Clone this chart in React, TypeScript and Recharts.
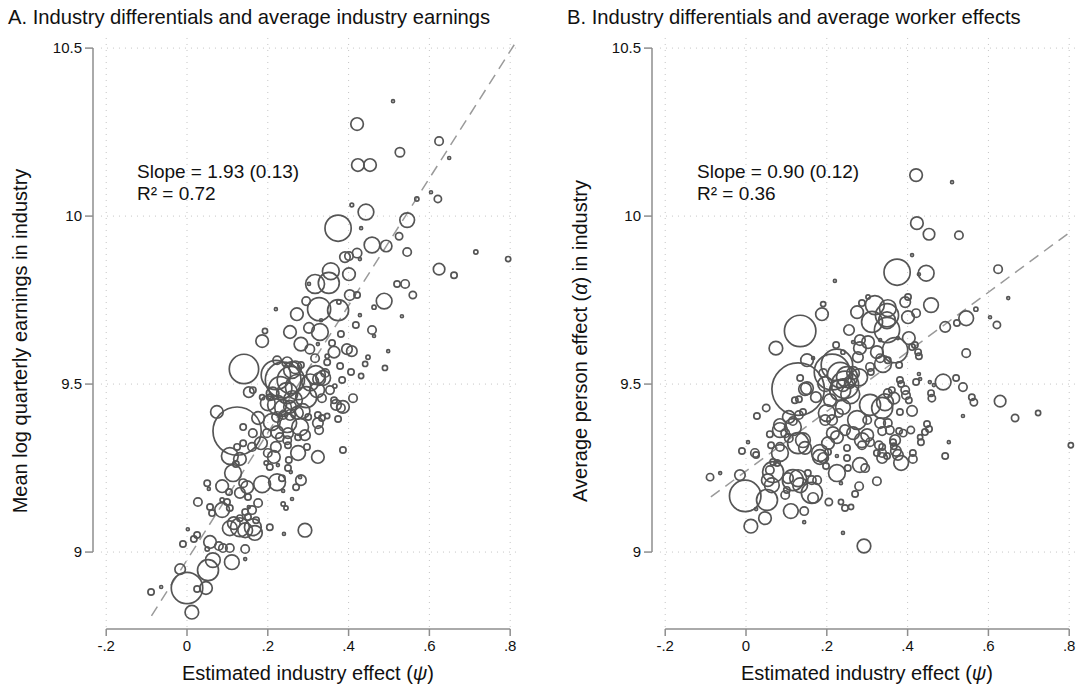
import React from "react";
import { ScatterChart, Scatter, XAxis, YAxis, ZAxis, ReferenceLine } from "recharts";

const FONT = '"Liberation Sans", Arial, Helvetica, sans-serif';
const AXIS = "#8e8e8e";
const GRID = "#c4c4c4";
const MARK = "#555555";

const xTicks = [-0.2, 0, 0.2, 0.4, 0.6, 0.8];
const yTicks = [9, 9.5, 10, 10.5];

// [industry effect psi, mean log quarterly earnings, employment weight]
const industriesA: number[][] = [
  [0.51, 10.342, 2], [0.421, 10.274, 36], [0.624, 10.223, 16], [0.527, 10.19, 20], [0.649, 10.173, 2],
  [0.423, 10.152, 36], [0.453, 10.152, 36], [0.408, 10.033, 3], [0.443, 10.012, 56], [0.569, 10.051, 4],
  [0.604, 10.071, 2], [0.621, 10.051, 12], [0.374, 9.964, 156], [0.431, 9.964, 2], [0.545, 9.988, 49],
  [0.525, 9.94, 12], [0.458, 9.914, 56], [0.493, 9.911, 30], [0.545, 9.893, 16], [0.715, 9.893, 4],
  [0.795, 9.872, 6], [0.421, 9.89, 20], [0.401, 9.881, 16], [0.391, 9.878, 25], [0.428, 9.872, 2],
  [0.624, 9.842, 30], [0.661, 9.824, 9], [0.356, 9.836, 64], [0.401, 9.827, 36], [0.351, 9.801, 100],
  [0.317, 9.798, 81], [0.302, 9.798, 2], [0.52, 9.798, 9], [0.54, 9.798, 16], [0.559, 9.765, 12],
  [0.488, 9.747, 56], [0.403, 9.765, 25], [0.421, 9.765, 9], [0.374, 9.72, 100], [0.327, 9.723, 121],
  [0.295, 9.747, 16], [0.272, 9.708, 36], [0.22, 9.723, 2], [0.376, 9.744, 4], [0.463, 9.729, 4],
  [0.532, 9.702, 2], [0.428, 9.705, 2], [0.418, 9.676, 9], [0.458, 9.661, 16], [0.381, 9.649, 9],
  [0.302, 9.667, 25], [0.332, 9.69, 2], [0.329, 9.655, 64], [0.255, 9.655, 36], [0.193, 9.658, 6],
  [0.186, 9.628, 36], [0.282, 9.619, 42], [0.304, 9.604, 20], [0.359, 9.622, 9], [0.396, 9.604, 25],
  [0.408, 9.598, 25], [0.364, 9.595, 30], [0.498, 9.598, 2], [0.448, 9.58, 4], [0.317, 9.577, 16],
  [0.347, 9.583, 4], [0.441, 9.56, 6], [0.379, 9.554, 9], [0.49, 9.548, 6], [0.406, 9.536, 9],
  [0.431, 9.524, 6], [0.384, 9.512, 9], [0.366, 9.494, 4], [0.141, 9.545, 196], [0.342, 9.533, 16],
  [0.327, 9.515, 36], [0.282, 9.557, 9], [0.257, 9.512, 169], [0.324, 9.619, 2], [0.347, 9.565, 9],
  [0.337, 9.518, 49], [0.319, 9.527, 81], [0.223, 9.571, 16], [0.248, 9.565, 25], [0.26, 9.542, 64],
  [0.22, 9.527, 196], [0.238, 9.512, 289], [0.248, 9.473, 100], [0.275, 9.491, 144], [0.295, 9.461, 100],
  [0.322, 9.482, 49], [0.334, 9.458, 16], [0.354, 9.482, 16], [0.364, 9.452, 9], [0.369, 9.438, 25],
  [0.386, 9.432, 36], [0.381, 9.429, 16], [0.411, 9.458, 16], [0.153, 9.476, 25], [0.163, 9.482, 9],
  [0.186, 9.461, 6], [0.205, 9.461, 9], [0.2, 9.443, 49], [0.223, 9.438, 81], [0.238, 9.429, 64],
  [0.255, 9.432, 36], [0.223, 9.402, 25], [0.238, 9.408, 16], [0.255, 9.408, 25], [0.272, 9.414, 36],
  [0.3, 9.402, 9], [0.324, 9.408, 9], [0.334, 9.399, 9], [0.347, 9.405, 6], [0.324, 9.384, 25],
  [0.327, 9.363, 16], [0.074, 9.417, 36], [0.124, 9.36, 529], [0.163, 9.354, 16], [0.139, 9.372, 9],
  [0.176, 9.399, 36], [0.21, 9.387, 64], [0.223, 9.357, 36], [0.198, 9.354, 16], [0.248, 9.384, 81],
  [0.25, 9.354, 25], [0.28, 9.372, 64], [0.292, 9.348, 25], [0.275, 9.342, 9], [0.23, 9.342, 16],
  [0.183, 9.324, 36], [0.139, 9.324, 9], [0.161, 9.313, 16], [0.22, 9.313, 25], [0.25, 9.318, 9],
  [0.297, 9.313, 9], [0.275, 9.295, 49], [0.106, 9.286, 64], [0.2, 9.295, 16], [0.324, 9.283, 36],
  [0.386, 9.304, 9], [0.124, 9.313, 9], [0.248, 9.333, 16], [0.215, 9.283, 36], [0.252, 9.274, 9],
  [0.131, 9.277, 36], [0.121, 9.262, 9], [0.196, 9.265, 4], [0.205, 9.253, 9], [0.225, 9.259, 2],
  [0.25, 9.25, 9], [0.257, 9.238, 2], [0.114, 9.235, 64], [0.05, 9.205, 9], [0.054, 9.188, 2],
  [0.087, 9.196, 36], [0.104, 9.179, 9], [0.139, 9.205, 16], [0.149, 9.193, 36], [0.131, 9.176, 25],
  [0.186, 9.202, 64], [0.223, 9.208, 64], [0.235, 9.22, 9], [0.282, 9.214, 25], [0.28, 9.223, 2],
  [0.27, 9.193, 9], [0.238, 9.182, 2], [0.151, 9.164, 9], [0.099, 9.149, 9], [0.087, 9.155, 4],
  [0.027, 9.149, 16], [0.057, 9.134, 9], [0.062, 9.116, 9], [0.087, 9.125, 49], [0.106, 9.131, 9],
  [0.153, 9.134, 2], [0.161, 9.125, 16], [0.176, 9.146, 16], [0.26, 9.158, 2], [0.238, 9.143, 4],
  [0.245, 9.131, 4], [0.144, 9.119, 9], [0.151, 9.104, 9], [0.131, 9.101, 9], [0.171, 9.095, 9],
  [0.116, 9.086, 36], [0.106, 9.071, 49], [0.131, 9.074, 81], [0.144, 9.065, 49], [0.163, 9.074, 64],
  [0.168, 9.057, 49], [0.205, 9.074, 9], [0.24, 9.054, 2], [0.292, 9.065, 42], [0.002, 9.068, 2],
  [0.025, 9.051, 9], [0.017, 9.039, 9], [-0.01, 9.024, 9], [0.057, 9.03, 36], [0.05, 9.009, 4],
  [0.079, 9.018, 16], [0.089, 9.012, 16], [0.106, 9.012, 16], [0.144, 9.009, 16], [0.144, 8.979, 2],
  [0.111, 8.97, 49], [0.064, 8.976, 49], [0.052, 8.946, 100], [-0.017, 8.949, 25], [0.0, 8.893, 225],
  [0.047, 8.893, 36], [0.025, 8.89, 9], [-0.064, 8.896, 2], [-0.089, 8.881, 9], [0.012, 8.821, 42],
  [0.374, 9.396, 9], [0.463, 9.643, 2], [0.231, 9.488, 121], [0.262, 9.452, 81], [0.286, 9.42, 49],
  [0.212, 9.472, 36], [0.305, 9.505, 64], [0.268, 9.55, 36],
];

// [industry effect psi, average person effect alpha, employment weight]
const industriesB: number[][] = [
  [0.421, 10.122, 36], [0.51, 10.101, 2], [0.423, 9.979, 36], [0.453, 9.946, 30], [0.527, 9.943, 16],
  [0.411, 9.884, 2], [0.374, 9.833, 156], [0.446, 9.83, 56], [0.428, 9.827, 2], [0.624, 9.842, 16],
  [0.22, 9.807, 2], [0.649, 9.756, 2], [0.458, 9.735, 49], [0.401, 9.759, 9], [0.394, 9.744, 25],
  [0.421, 9.711, 16], [0.401, 9.699, 36], [0.319, 9.735, 81], [0.351, 9.726, 64], [0.349, 9.705, 121],
  [0.275, 9.714, 36], [0.302, 9.759, 4], [0.191, 9.738, 6], [0.188, 9.708, 36], [0.134, 9.658, 225],
  [0.074, 9.607, 42], [0.255, 9.661, 25], [0.312, 9.685, 100], [0.349, 9.661, 144], [0.282, 9.631, 25],
  [0.265, 9.625, 2], [0.302, 9.625, 36], [0.332, 9.631, 2], [0.376, 9.637, 2], [0.403, 9.637, 36],
  [0.418, 9.616, 9], [0.426, 9.595, 9], [0.369, 9.601, 144], [0.332, 9.577, 16], [0.351, 9.571, 9],
  [0.282, 9.607, 36], [0.277, 9.58, 25], [0.307, 9.551, 16], [0.151, 9.571, 36], [0.166, 9.577, 2],
  [0.191, 9.533, 16], [0.223, 9.616, 9], [0.24, 9.595, 4], [0.225, 9.557, 225], [0.233, 9.527, 144],
  [0.25, 9.521, 100], [0.265, 9.533, 36], [0.257, 9.503, 25], [0.24, 9.497, 36], [0.134, 9.518, 9],
  [0.151, 9.488, 36], [0.493, 9.67, 25], [0.522, 9.682, 9], [0.545, 9.696, 49], [0.569, 9.723, 4],
  [0.604, 9.699, 2], [0.621, 9.676, 12], [0.545, 9.592, 16], [0.488, 9.506, 56], [0.52, 9.518, 9],
  [0.537, 9.491, 16], [0.455, 9.506, 2], [0.428, 9.53, 2], [0.421, 9.506, 9], [0.381, 9.512, 9],
  [0.394, 9.482, 16], [0.458, 9.473, 9], [0.559, 9.461, 9], [0.629, 9.449, 30], [0.351, 9.473, 16],
  [0.129, 9.485, 625], [0.349, 9.69, 64], [0.411, 9.61, 9], [0.428, 9.583, 9], [0.339, 9.56, 64],
  [0.465, 9.497, 2], [0.564, 9.446, 12], [0.666, 9.399, 12], [0.723, 9.414, 6], [0.804, 9.318, 6],
  [0.537, 9.405, 2], [0.431, 9.515, 2], [0.384, 9.5, 9], [0.46, 9.458, 12], [0.366, 9.458, 30],
  [0.396, 9.467, 16], [0.403, 9.452, 9], [0.411, 9.42, 25], [0.381, 9.417, 9], [0.344, 9.446, 64],
  [0.337, 9.429, 100], [0.361, 9.482, 9], [0.433, 9.327, 9], [0.502, 9.327, 2], [0.493, 9.286, 9],
  [0.453, 9.366, 9], [0.443, 9.357, 9], [0.408, 9.363, 12], [0.389, 9.354, 12], [0.379, 9.36, 9],
  [0.356, 9.363, 16], [0.337, 9.36, 16], [0.366, 9.315, 9], [0.371, 9.301, 25], [0.384, 9.265, 49],
  [0.413, 9.277, 16], [0.349, 9.286, 9], [0.337, 9.28, 25], [0.146, 9.485, 36], [0.131, 9.455, 9],
  [0.121, 9.452, 9], [0.173, 9.461, 25], [0.05, 9.429, 12], [0.027, 9.405, 9], [0.084, 9.378, 36],
  [0.106, 9.402, 36], [0.116, 9.39, 16], [0.131, 9.408, 16], [0.141, 9.417, 9], [0.097, 9.354, 16],
  [0.059, 9.351, 9], [0.062, 9.318, 9], [0.084, 9.313, 16], [0.084, 9.295, 64], [0.129, 9.324, 100],
  [0.141, 9.333, 49], [-0.01, 9.301, 9], [0.022, 9.295, 16], [0.005, 9.327, 2], [0.106, 9.339, 16],
  [0.213, 9.536, 289], [0.233, 9.482, 100], [0.208, 9.452, 36], [0.2, 9.414, 64], [0.196, 9.393, 25],
  [0.213, 9.393, 25], [0.23, 9.414, 16], [0.24, 9.432, 49], [0.225, 9.342, 36], [0.245, 9.363, 25],
  [0.265, 9.354, 36], [0.275, 9.393, 81], [0.3, 9.393, 16], [0.307, 9.438, 100], [0.332, 9.384, 25],
  [0.351, 9.384, 16], [0.3, 9.348, 36], [0.307, 9.327, 16], [0.337, 9.313, 9], [0.287, 9.318, 16],
  [0.25, 9.31, 9], [0.369, 9.333, 25], [0.203, 9.324, 36], [0.183, 9.295, 64], [0.225, 9.286, 2],
  [0.324, 9.595, 36], [0.309, 9.536, 9], [0.287, 9.741, 9], [0.379, 9.557, 9], [-0.089, 9.223, 12],
  [-0.064, 9.235, 2], [-0.015, 9.229, 25], [-0.002, 9.167, 225], [0.052, 9.155, 100], [0.025, 9.128, 2],
  [0.012, 9.077, 42], [0.047, 9.101, 36], [0.111, 9.122, 49], [0.144, 9.122, 16], [0.144, 9.089, 2],
  [0.205, 9.149, 12], [0.235, 9.149, 6], [0.245, 9.131, 9], [0.26, 9.134, 6], [0.24, 9.057, 2],
  [0.292, 9.018, 42], [0.28, 9.196, 16], [0.27, 9.173, 9], [0.324, 9.211, 16], [0.025, 9.289, 9],
  [0.067, 9.268, 9], [0.077, 9.265, 9], [0.059, 9.244, 16], [0.067, 9.238, 100], [0.064, 9.199, 49],
  [0.104, 9.22, 25], [0.116, 9.214, 100], [0.129, 9.22, 64], [0.134, 9.199, 49], [0.153, 9.235, 9],
  [0.163, 9.214, 16], [0.176, 9.214, 16], [0.163, 9.176, 100], [0.166, 9.161, 25], [0.101, 9.185, 9],
  [0.097, 9.17, 16], [0.225, 9.235, 64], [0.191, 9.28, 25], [0.183, 9.283, 49], [0.198, 9.256, 9],
  [0.203, 9.298, 9], [0.25, 9.28, 9], [0.252, 9.25, 9], [0.235, 9.205, 2], [0.282, 9.259, 49],
  [0.295, 9.25, 16], [0.146, 9.31, 36], [0.084, 9.363, 49], [0.116, 9.372, 64], [0.215, 9.354, 36],
  [0.287, 9.333, 49], [0.329, 9.318, 16], [0.337, 9.295, 16], [0.364, 9.327, 9], [0.376, 9.289, 25],
  [0.324, 9.295, 9], [0.413, 9.295, 9], [0.431, 9.342, 6], [0.448, 9.381, 9], [0.054, 9.214, 36],
  [0.245, 9.498, 169], [0.258, 9.47, 81], [0.196, 9.5, 49], [0.28, 9.52, 64],
];

// fitted regression lines (endpoints)
const fitA = [{ x: -0.088, y: 8.81 }, { x: 0.81, y: 10.51 }];
const fitB = [{ x: -0.087, y: 9.164 }, { x: 0.805, y: 9.955 }];

const Y_DOMAIN: [number, number] = [8.771, 10.539];

const fmtX = (v: number) => (v === 0 ? "0" : (v < 0 ? "-" : "") + String(Math.abs(v)).replace(/^0/, ""));
const fmtY = (v: number) => String(v);

function Bubble(props: any) {
  const { cx, cy, size } = props;
  if (cx == null || cy == null) return <g />;
  const r = Math.sqrt(Math.max(size ?? 0, 0) / Math.PI);
  return <circle cx={cx} cy={cy} r={Math.max(r, 1.4)} fill="none" stroke={MARK} strokeWidth={1.7} />;
}

type PanelProps = {
  rows: number[][];
  fit: { x: number; y: number }[];
  xDomain: [number, number];
  marginLeft: number;
  marginRight: number;
  left: number;
};

function Panel({ rows, fit, xDomain, marginLeft, marginRight, left }: PanelProps) {
  const data = rows.map(([x, y, z]) => ({ x, y, z }));
  const [x0, x1] = xDomain;
  const [y0, y1] = Y_DOMAIN;
  const gridX0 = -0.213;
  return (
    <div style={{ position: "absolute", left, top: 0 }}>
      <ScatterChart width={538} height={690} margin={{ top: 35, right: marginRight, bottom: 21, left: marginLeft }}>
        <XAxis
          type="number"
          dataKey="x"
          domain={xDomain}
          ticks={xTicks}
          interval={0}
          allowDataOverflow
          tickFormatter={fmtX}
          axisLine={false}
          stroke={AXIS}
          tickLine={{ stroke: AXIS, strokeWidth: 1.5 }}
          tickSize={7}
          tickMargin={4}
          tick={{ fill: "#111", fontSize: 15, fontFamily: FONT }}
          height={40}
        />
        <YAxis
          type="number"
          dataKey="y"
          domain={Y_DOMAIN}
          ticks={yTicks}
          interval={0}
          allowDataOverflow
          tickFormatter={fmtY}
          axisLine={false}
          stroke={AXIS}
          tickLine={{ stroke: AXIS, strokeWidth: 1.5 }}
          tickSize={8}
          tickMargin={3}
          tick={{ fill: "#111", fontSize: 15, fontFamily: FONT }}
          width={60}
        />
        <ZAxis type="number" dataKey="z" domain={[0, 700]} range={[0, 700 * Math.PI * 1.1]} />
        {yTicks.map((t) => (
          <ReferenceLine key={"gy" + t} segment={[{ x: gridX0, y: t }, { x: x1, y: t }]} stroke={GRID} strokeWidth={1} strokeDasharray="1 5" ifOverflow="visible" />
        ))}
        {xTicks.map((t) => (
          <ReferenceLine key={"gx" + t} segment={[{ x: t, y: y0 + 0.006 }, { x: t, y: y1 }]} stroke={GRID} strokeWidth={1} strokeDasharray="1 5" ifOverflow="visible" />
        ))}
        <ReferenceLine segment={[{ x: -0.2, y: y0 }, { x: 0.8, y: y0 }]} stroke={AXIS} strokeWidth={1.5} ifOverflow="visible" />
        <ReferenceLine segment={[{ x: x0, y: 9 }, { x: x0, y: 10.5 }]} stroke={AXIS} strokeWidth={1.5} ifOverflow="visible" />
        <Scatter data={data} shape={Bubble} isAnimationActive={false} />
        <ReferenceLine segment={[fit[0], fit[1]]} stroke="#9a9a9a" strokeWidth={1.5} strokeDasharray="11 7" ifOverflow="visible" />
      </ScatterChart>
    </div>
  );
}

export default function App() {
  return (
    <div style={{ position: "absolute", left: 0, top: 0, width: 1076, height: 690, background: "#fff", fontFamily: FONT }}>
      <Panel rows={industriesA} fit={fitA} xDomain={[-0.2327, 0.8243]} marginLeft={33} marginRight={18} left={0} />
      <Panel rows={industriesB} fit={fitB} xDomain={[-0.2327, 0.8168]} marginLeft={54} marginRight={0} left={538} />
      <svg width={1076} height={690} style={{ position: "absolute", left: 0, top: 0, pointerEvents: "none" }} fontFamily={FONT} fill="#111">
        <text x={8} y={24} fontSize={20.2}>A. Industry differentials and average industry earnings</text>
        <text x={567} y={24} fontSize={20.2}>B. Industry differentials and average worker effects</text>
        <text x={308} y={680} fontSize={20}>
          <tspan textAnchor="middle">Estimated industry effect (<tspan fontStyle="italic">ψ</tspan>)</tspan>
        </text>
        <text x={867} y={680} fontSize={20}>
          <tspan textAnchor="middle">Estimated industry effect (<tspan fontStyle="italic">ψ</tspan>)</tspan>
        </text>
        <text transform="translate(27,341) rotate(-90)" fontSize={20} textAnchor="middle">
          Mean log quarterly earnings in industry
        </text>
        <text transform="translate(587,341) rotate(-90)" fontSize={20} textAnchor="middle">
          Average person effect (<tspan fontStyle="italic">α</tspan>) in industry
        </text>
        <text x={137} y={178} fontSize={19}>Slope = 1.93 (0.13)</text>
        <text x={137} y={200} fontSize={19}>R² = 0.72</text>
        <text x={697} y={178} fontSize={19}>Slope = 0.90 (0.12)</text>
        <text x={697} y={200} fontSize={19}>R² = 0.36</text>
      </svg>
    </div>
  );
}
